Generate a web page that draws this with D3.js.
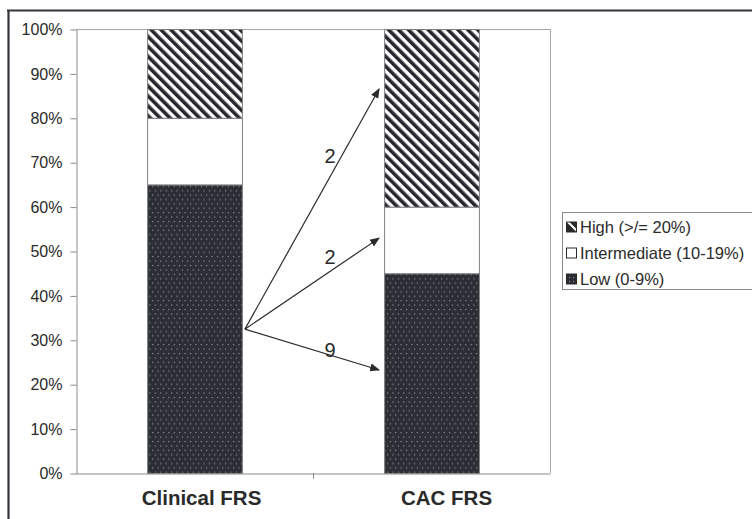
<!DOCTYPE html>
<html><head><meta charset="utf-8">
<script src="https://cdn.jsdelivr.net/npm/d3@7/dist/d3.min.js"></script>
<style>
html,body{margin:0;padding:0;background:#fff;}
svg{display:block;font-family:"Liberation Sans",Arial,sans-serif;}
</style></head>
<body>
<svg id="chart" width="752" height="519"></svg>
<script>
// ---- data ----
const categories = ["Clinical FRS", "CAC FRS"];
const seriesNames = ["Low (0-9%)", "Intermediate (10-19%)", "High (>/= 20%)"];
const lowValues = [65, 45];
const intermediateValues = [15, 15];
const highValues = [20, 40];
const yTicks = [0, 10, 20, 30, 40, 50, 60, 70, 80, 90, 100];
// reclassification arrows: from Clinical bar (value %) to CAC bar (value %), with count label
const arrowFrom = [32.4, 32.4, 32.4];
const arrowTo = [86.5, 52.9, 23.2];
const arrowLabels = ["2", "2", "9"];
const arrowLabelAt = [71.4, 48.6, 27.7]; // label vertical position (value %)

const svg = d3.select("#chart");
const W = 752, H = 519;
const plot = {left: 76, right: 550, top: 29, bottom: 473};
const FONT = "'Liberation Sans',Arial,sans-serif";

// outer frame (clipped box)
svg.append("line").attr("x1", 7).attr("x2", W).attr("y1", 10.5).attr("y2", 10.5)
  .attr("stroke", "#34343c").attr("stroke-width", 2.2);
svg.append("line").attr("x1", 8.5).attr("x2", 8.5).attr("y1", 10).attr("y2", H)
  .attr("stroke", "#34343c").attr("stroke-width", 2.2);

const defs = svg.append("defs");
// High: diagonal stripes
const ph = defs.append("pattern").attr("id", "pHigh").attr("patternUnits", "userSpaceOnUse")
  .attr("width", 7).attr("height", 7).attr("patternTransform", "rotate(-45)");
ph.append("rect").attr("width", 7).attr("height", 7).attr("fill", "#fff");
ph.append("rect").attr("width", 3.6).attr("height", 7).attr("fill", "#26262c");
// Low: dark with light dots
const pl = defs.append("pattern").attr("id", "pLow").attr("patternUnits", "userSpaceOnUse")
  .attr("width", 5.4).attr("height", 8.8);
pl.append("rect").attr("width", 5.4).attr("height", 8.8).attr("fill", "#2c2e35");
pl.append("rect").attr("x", 1).attr("y", 1).attr("width", 1).attr("height", 1).attr("fill", "#b4b6bc");
pl.append("rect").attr("x", 3.7).attr("y", 5.4).attr("width", 1).attr("height", 1).attr("fill", "#b4b6bc");
// legend version
const plL = defs.append("pattern").attr("id", "pLowLeg").attr("patternUnits", "userSpaceOnUse")
  .attr("width", 4).attr("height", 4);
plL.append("rect").attr("width", 4).attr("height", 4).attr("fill", "#2c2e35");
plL.append("rect").attr("x", 1).attr("y", 1).attr("width", 1).attr("height", 1).attr("fill", "#999");

const x = d3.scaleBand().domain(categories).range([plot.left, plot.right]).paddingInner(0.6).paddingOuter(0.3);
const y = d3.scaleLinear().domain([0, 100]).range([plot.bottom, plot.top]);

// plot area top/right border
svg.append("line").attr("x1", plot.left).attr("x2", plot.right).attr("y1", plot.top + 0.5).attr("y2", plot.top + 0.5)
  .attr("stroke", "#a8a8a8").attr("stroke-width", 1);
svg.append("line").attr("x1", plot.right + 0.5).attr("x2", plot.right + 0.5).attr("y1", plot.top).attr("y2", plot.bottom)
  .attr("stroke", "#a8a8a8").attr("stroke-width", 1);

// stacked data
const rows = categories.map((c, i) => ({cat: c, low: lowValues[i], intermediate: intermediateValues[i], high: highValues[i]}));
const stack = d3.stack().keys(["low", "intermediate", "high"])(rows);
const fills = {low: "url(#pLow)", intermediate: "#fff", high: "url(#pHigh)"};

stack.forEach(layer => {
  svg.append("g").selectAll("rect").data(layer).join("rect")
    .attr("x", d => x(d.data.cat) + 0.5)
    .attr("width", x.bandwidth())
    .attr("y", d => y(d[1]) + 0.5)
    .attr("height", d => y(d[0]) - y(d[1]))
    .attr("fill", fills[layer.key])
    .attr("stroke", "#808080").attr("stroke-width", 1);
});

// axes
const yAxis = d3.axisLeft(y).tickValues(yTicks).tickFormat(d => d + "%").tickSize(6).tickSizeOuter(0);
const gy = svg.append("g").attr("transform", `translate(${plot.left + 0.5},0.5)`).call(yAxis);
gy.selectAll("path,line").attr("stroke", "#8a8a8a");
gy.selectAll("text").attr("font-size", 16).attr("fill", "#2a2a2a").attr("x", -14)
  .attr("font-family", FONT);

const xAxis = d3.axisBottom(x).tickSize(0).tickSizeOuter(0);
const gx = svg.append("g").attr("transform", `translate(0,${plot.bottom + 0.5})`).call(xAxis);
gx.select("path").attr("stroke", "#8a8a8a");
gx.selectAll("text").attr("font-size", 20.5).attr("font-weight", "bold").attr("fill", "#2a2a2a")
  .attr("dy", 0).attr("y", 31).attr("x", (d, i) => i === 0 ? 7 : 15).attr("font-family", FONT);
// middle tick between categories
const mid = (x(categories[0]) + x.bandwidth() + x(categories[1])) / 2;
svg.append("line").attr("x1", mid + 0.5).attr("x2", mid + 0.5).attr("y1", plot.bottom).attr("y2", plot.bottom + 6)
  .attr("stroke", "#8a8a8a");

// arrows
defs.append("marker").attr("id", "arrowHead").attr("viewBox", "0 0 10 10").attr("refX", 9).attr("refY", 5)
  .attr("markerWidth", 10).attr("markerHeight", 10).attr("markerUnits", "userSpaceOnUse").attr("orient", "auto")
  .append("path").attr("d", "M0,1 L10,5 L0,9 Z").attr("fill", "#2a2a2a");
const x0 = x(categories[0]) + x.bandwidth() + 3;
const x1 = x(categories[1]) - 5;
arrowFrom.forEach((f, i) => {
  svg.append("line").attr("x1", x0).attr("y1", y(f)).attr("x2", x1).attr("y2", y(arrowTo[i]))
    .attr("stroke", "#2a2a2a").attr("stroke-width", 1.2).attr("marker-end", "url(#arrowHead)");
});
const labelX = (plot.left + plot.right) / 2 + 17;
arrowLabels.forEach((t, i) => {
  svg.append("text").attr("x", labelX).attr("y", y(arrowLabelAt[i]) + 7)
    .attr("text-anchor", "middle").attr("font-size", 20).attr("fill", "#2a2a2a")
    .attr("font-family", FONT).text(t);
});

// legend
const leg = svg.append("g");
leg.append("rect").attr("x", 562.5).attr("y", 212.5).attr("width", 200).attr("height", 77)
  .attr("fill", "#fff").attr("stroke", "#8a8a8a");
const legItems = [seriesNames[2], seriesNames[1], seriesNames[0]];
const legFill = ["high", "intermediate", "low"];
legItems.forEach((name, i) => {
  const cy = 227 + i * 26;
  const g = leg.append("g");
  const sx = 566.5, s = 10;
  if (legFill[i] === "high") {
    g.append("rect").attr("x", sx).attr("y", cy - 5).attr("width", s).attr("height", s)
      .attr("fill", "#fff").attr("stroke", "#2a2a2a");
    g.append("path").attr("d", `M${sx},${cy - 5} L${sx + s},${cy + 5} L${sx},${cy + 5} Z`).attr("fill", "#2a2a2a");
    g.append("path").attr("d", `M${sx + 3},${cy - 5} L${sx + s},${cy - 5} L${sx + s},${cy + 2} Z`).attr("fill", "#2a2a2a");
  } else if (legFill[i] === "intermediate") {
    g.append("rect").attr("x", sx).attr("y", cy - 5).attr("width", s).attr("height", s)
      .attr("fill", "#fff").attr("stroke", "#2a2a2a");
  } else {
    g.append("rect").attr("x", sx).attr("y", cy - 5).attr("width", s).attr("height", s)
      .attr("fill", "url(#pLowLeg)").attr("stroke", "#2a2a2a");
  }
  g.append("text").attr("x", 580).attr("y", cy + 6).attr("font-size", 16.5).attr("fill", "#2a2a2a")
    .attr("font-family", FONT).text(name);
});
</script>
</body></html>
